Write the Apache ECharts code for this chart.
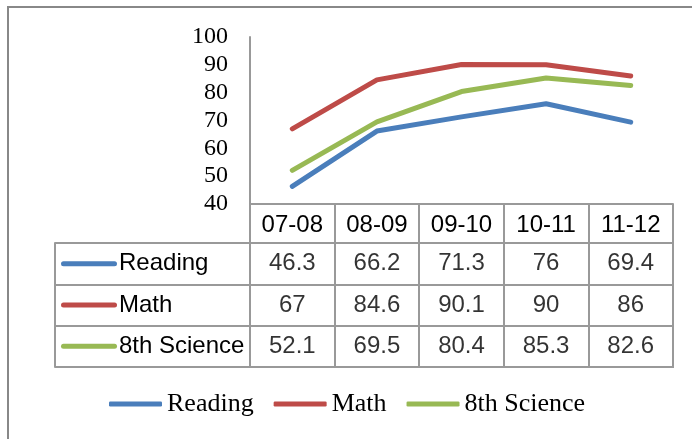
<!DOCTYPE html>
<html>
<head>
<meta charset="utf-8">
<script src="https://cdn.jsdelivr.net/npm/echarts@6/dist/echarts.min.js"></script>
<style>
  html, body { margin: 0; padding: 0; background: #fff; }
  #main { width: 692px; height: 439px; }
</style>
</head>
<body>
<div id="main"></div>
<script>
var years = ['07-08', '08-09', '09-10', '10-11', '11-12'];
var reading = [46.3, 66.2, 71.3, 76, 69.4];
var math = [67, 84.6, 90.1, 90, 86];
var science = [52.1, 69.5, 80.4, 85.3, 82.6];
var seriesNames = ['Reading', 'Math', '8th Science'];
var colors = ['#4a7ebb', '#be4b48', '#98b954'];

var gridLine = '#999';
var rows = [reading, math, science];

// table cells: [column, row, value]
var cells = [];
rows.forEach(function (arr, r) {
  arr.forEach(function (v, c) { cells.push([c, r, v]); });
});

var rich = { t: { fontFamily: 'Liberation Sans', fontSize: 24, color: '#000', padding: [0, 0, 0, 2] } };
colors.forEach(function (c, i) {
  rich['k' + i] = { width: 56, height: 5, backgroundColor: c, borderRadius: 3 };
});

var chart = echarts.init(document.getElementById('main'));

var option = {
  animation: false,
  color: colors,
  grid: [
    { left: 250, top: 37, width: 423, height: 167 },
    { left: 250, top: 243, width: 423, height: 124, show: true, borderColor: gridLine, borderWidth: 2 }
  ],
  xAxis: [
    {
      type: 'category', gridIndex: 0, data: years, boundaryGap: true,
      axisLine: { lineStyle: { color: gridLine, width: 2 } },
      axisTick: { show: true, interval: 0, length: 163, lineStyle: { color: gridLine, width: 2 } },
      axisLabel: { fontFamily: 'Liberation Sans', fontSize: 24, color: '#000', margin: 9 }
    },
    {
      type: 'category', gridIndex: 1, data: years,
      axisLine: { show: false }, axisTick: { show: false }, axisLabel: { show: false },
      splitLine: { show: true, interval: 0, lineStyle: { color: gridLine, width: 2 } }
    }
  ],
  yAxis: [
    {
      type: 'value', gridIndex: 0, min: 40, max: 100, interval: 10,
      axisLine: { show: true, lineStyle: { color: gridLine, width: 2 } },
      axisTick: { show: false },
      splitLine: { show: false },
      axisLabel: { fontFamily: 'Liberation Serif', fontSize: 24, color: '#000', margin: 22 }
    },
    {
      type: 'category', gridIndex: 1, data: seriesNames, inverse: true,
      axisLine: { show: false },
      axisTick: { show: true, interval: 0, length: 195, lineStyle: { color: gridLine, width: 2 } },
      splitLine: { show: true, interval: 0, lineStyle: { color: gridLine, width: 2 } },
      axisLabel: {
        align: 'left', margin: 189, rich: rich,
        formatter: function (v, i) { return '{k' + i + '|}{t|' + v + '}'; }
      }
    },
    {
      type: 'category', gridIndex: 1, data: seriesNames, position: 'left', offset: 195,
      axisLine: { show: true, lineStyle: { color: gridLine, width: 2 } },
      axisTick: { show: false }, axisLabel: { show: false }
    }
  ],
  legend: {
    left: 104, top: 386, itemWidth: 53, itemHeight: 5, itemGap: 20,
    icon: 'roundRect',
    textStyle: { fontFamily: 'Liberation Serif', fontSize: 26, color: '#000' },
    data: seriesNames
  },
  series: [
    { name: seriesNames[0], type: 'line', data: reading, showSymbol: false, lineStyle: { width: 5, cap: 'round' } },
    { name: seriesNames[1], type: 'line', data: math, showSymbol: false, lineStyle: { width: 5, cap: 'round' } },
    { name: seriesNames[2], type: 'line', data: science, showSymbol: false, lineStyle: { width: 5, cap: 'round' } },
    {
      type: 'scatter', xAxisIndex: 1, yAxisIndex: 1, data: cells, symbolSize: 0,
      label: {
        show: true, position: 'inside', fontFamily: 'Liberation Sans', fontSize: 24, color: '#000',
        formatter: function (p) { return String(p.value[2]); }
      }
    }
  ],
  graphic: [
    {
      type: 'rect', shape: { x: 8, y: 7, width: 800, height: 600 },
      style: { fill: 'none', stroke: '#888', lineWidth: 2 }, silent: true
    }
  ]
};

chart.setOption(option);
</script>
</body>
</html>
